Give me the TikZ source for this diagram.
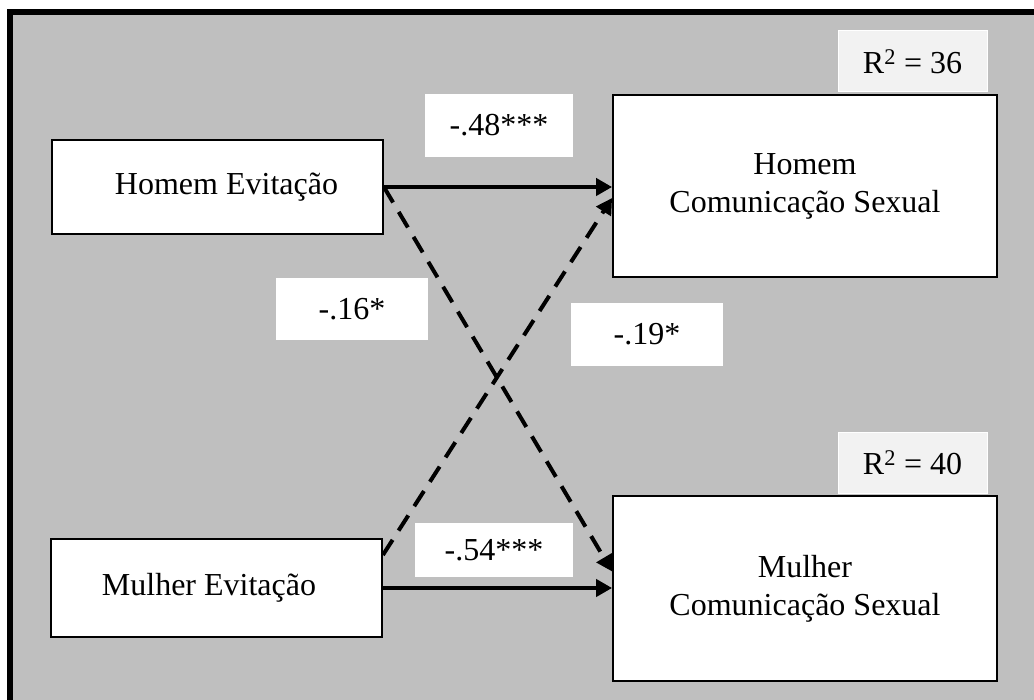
\documentclass[tikz,border=0pt]{standalone}
\usepackage{fontspec}
\setmainfont{Liberation Serif}
\usetikzlibrary{arrows.meta,calc}
\definecolor{panelgray}{RGB}{191,191,191}
\definecolor{rsqgray}{RGB}{242,242,242}

\begin{document}
\begin{tikzpicture}[x=1pt,y=-1pt,
  bigtext/.style={font=\fontsize{32}{38}\selectfont},
  varbox/.style={bigtext, draw=black, line width=1.8pt, fill=white, align=center, inner sep=0pt},
  coef/.style={bigtext, fill=white, inner sep=0pt, minimum height=62pt},
  rsq/.style={bigtext, fill=rsqgray, draw=white, line width=1pt, inner sep=0pt, minimum width=149pt, minimum height=61pt},
  solidarrow/.style={line width=4pt, -{Triangle[length=16pt,width=17pt]}},
  dasharrow/.style={line width=4pt, dash pattern=on 18pt off 11pt, -{Triangle[length=16pt,width=17pt]}}
]
\useasboundingbox (0,0) rectangle (1034,700);

% panel background and its frame
\fill[panelgray] (7,9) rectangle (1034,700);
\draw[line width=6pt] (10,700) -- (10,12) -- (1034,12);

% variables
\node[varbox, minimum width=331pt, minimum height=94pt] (he) at (217.5,187) {\hspace*{18pt}Homem Evitação};
\node[varbox, minimum width=331pt, minimum height=98pt] (me) at (216.5,588) {Mulher Evitação\hspace*{15pt}};
\node[varbox, minimum width=384pt, minimum height=182pt] (hc) at (805,186) {Homem\\Comunicação Sexual};
\node[varbox, minimum width=384pt, minimum height=185pt] (mc) at (805,588.5) {Mulher\\Comunicação Sexual};

% explained variance
\node[rsq] (r1) at (912.5,61.5) {R\textsuperscript{2} = 36};
\node[rsq] (r2) at (912.5,463) {R\textsuperscript{2} = 40};

% paths
\coordinate (meout) at ($(me.east)+(0,-33)$);
\coordinate (hcin) at ($(hc.west)+(0,12)$);
\coordinate (mcin) at ($(mc.west)+(0,-17)$);
\draw[solidarrow] (he.east) -- (he.east -| hc.west);
\draw[solidarrow] (me.east) -- (me.east -| mc.west);
\draw[dasharrow] (he.east) -- (mcin);
\draw[dasharrow] (meout) -- (hcin);

% path coefficients
\node[coef, minimum width=148pt, minimum height=63pt] (c1) at (499,125.5) {-.48***};
\node[coef, minimum width=152pt] (c2) at (352,309) {-.16*};
\node[coef, minimum width=152pt, minimum height=63pt] (c3) at (647,334.5) {-.19*};
\node[coef, minimum width=158pt, minimum height=54pt] (c4) at (494,550) {-.54***};
\end{tikzpicture}
\end{document}
